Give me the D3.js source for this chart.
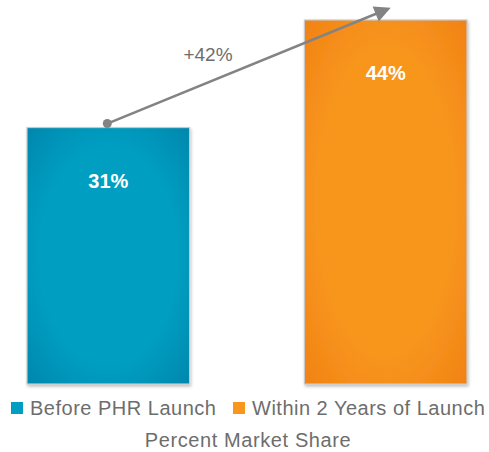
<!DOCTYPE html>
<html>
<head>
<meta charset="utf-8">
<script src="https://cdn.jsdelivr.net/npm/d3@7"></script>
<style>
    body { margin: 0; background: #fff; }
    svg { display: block; font-family: "Liberation Sans", Arial, sans-serif; }
</style>
</head>
<body>
<svg id="chart"></svg>
<script>
// chart data
const categories = ["Before PHR Launch", "Within 2 Years of Launch"];
const values = [31, 44];
const valueLabels = ["31%", "44%"];
const changeLabel = "+42%";
const axisTitle = "Percent Market Share";

const width = 489, height = 452;
const svg = d3.select("#chart")
    .attr("width", width)
    .attr("height", height);

const defs = svg.append("defs");

// colours per bar: [center, edge]
const colors = [["#009fc2", "#0083aa"], ["#f8961e", "#f07f13"]];

colors.forEach((c, i) => {
    const g = defs.append("radialGradient")
        .attr("id", "grad" + i)
        .attr("cx", "50%").attr("cy", "50%").attr("r", "75%");
    g.append("stop").attr("offset", "55%").attr("stop-color", c[0]);
    g.append("stop").attr("offset", "100%").attr("stop-color", c[1]);
});

const shadow = defs.append("filter").attr("id", "shadow")
    .attr("x", "-10%").attr("y", "-10%").attr("width", "120%").attr("height", "120%");
shadow.append("feDropShadow")
    .attr("dx", 1).attr("dy", 2).attr("stdDeviation", 1.5)
    .attr("flood-color", "#000").attr("flood-opacity", 0.25);

const marker = defs.append("marker")
    .attr("id", "arrow")
    .attr("viewBox", "0 0 10 10")
    .attr("refX", 8).attr("refY", 5)
    .attr("markerWidth", 7).attr("markerHeight", 6.5)
    .attr("markerUnits", "strokeWidth")
    .attr("orient", "auto");
marker.append("path").attr("d", "M0,0 L10,5 L0,10 Z").attr("fill", "#838383");

const x = d3.scaleBand()
    .domain(categories)
    .range([27, 467])
    .paddingInner(0.414)
    .paddingOuter(0);

const y = d3.scaleLinear()
    .domain([0, 44])
    .range([384, 20]);

svg.selectAll(".bar")
    .data(categories)
    .enter()
    .append("rect")
    .attr("class", "bar")
    .attr("x", d => x(d))
    .attr("y", (d, i) => y(values[i]))
    .attr("width", x.bandwidth())
    .attr("height", (d, i) => y(0) - y(values[i]))
    .attr("fill", (d, i) => `url(#grad${i})`)
    .attr("stroke", "#c8c8c8")
    .attr("stroke-width", 1.2)
    .attr("filter", "url(#shadow)");

svg.selectAll(".value-label")
    .data(categories)
    .enter()
    .append("text")
    .attr("class", "value-label")
    .attr("x", d => x(d) + x.bandwidth() / 2)
    .attr("y", (d, i) => y(values[i]) + 60)
    .attr("text-anchor", "middle")
    .attr("fill", "#fff")
    .attr("font-weight", "bold")
    .attr("font-size", 20)
    .text((d, i) => valueLabels[i]);

// growth arrow
const cx0 = x(categories[0]) + x.bandwidth() / 2;
const cx1 = x(categories[1]) + x.bandwidth() / 2;
const y0 = y(values[0]) - 4;
const y1 = y(values[1]) - 11;

svg.append("line")
    .attr("x1", cx0 - 1).attr("y1", y0)
    .attr("x2", cx1 + 2).attr("y2", y1)
    .attr("stroke", "#838383")
    .attr("stroke-width", 2.5)
    .attr("marker-end", "url(#arrow)");

svg.append("circle")
    .attr("cx", cx0 - 1).attr("cy", y0)
    .attr("r", 4.5)
    .attr("fill", "#838383");

svg.append("text")
    .attr("x", 208)
    .attr("y", 61)
    .attr("text-anchor", "middle")
    .attr("fill", "#6d6d6d")
    .attr("font-size", 19)
    .text(changeLabel);

// legend
const legendX = [11, 233];
const legend = svg.selectAll(".legend-item")
    .data(categories)
    .enter()
    .append("g")
    .attr("class", "legend-item")
    .attr("transform", (d, i) => `translate(${legendX[i]},402)`);

legend.append("rect")
    .attr("width", 12).attr("height", 12)
    .attr("fill", (d, i) => colors[i][0]);

legend.append("text")
    .attr("x", 19)
    .attr("y", 13)
    .attr("fill", "#6d6d6d")
    .attr("font-size", 20)
    .attr("letter-spacing", 0.5)
    .text(d => d);

svg.append("text")
    .attr("x", 248)
    .attr("y", 447)
    .attr("text-anchor", "middle")
    .attr("fill", "#6d6d6d")
    .attr("font-size", 20)
    .attr("letter-spacing", 0.6)
    .text(axisTitle);
</script>
</body>
</html>
